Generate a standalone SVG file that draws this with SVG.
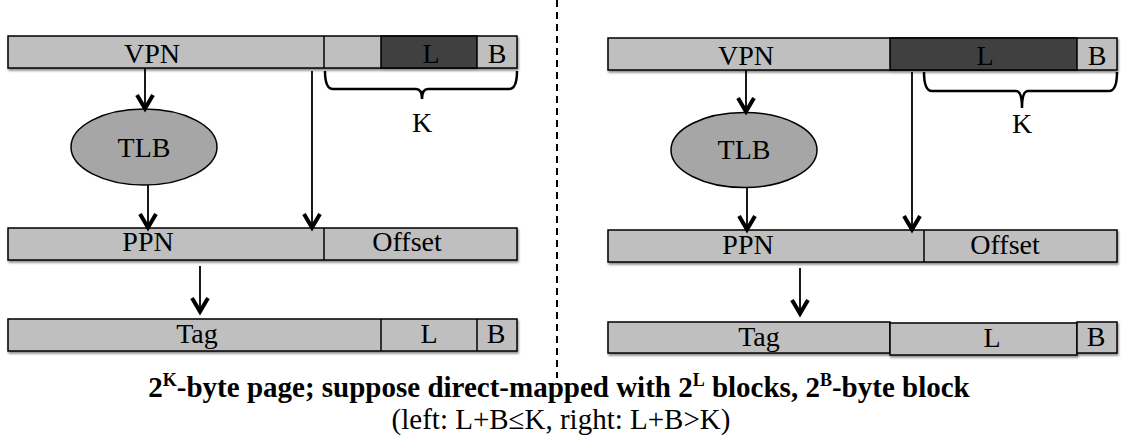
<svg xmlns="http://www.w3.org/2000/svg" width="1126" height="446" viewBox="0 0 1126 446" font-family="Liberation Serif, serif">
<defs>
<filter id="sh" x="-5%" y="-20%" width="110%" height="160%">
<feDropShadow dx="1" dy="2" stdDeviation="1.2" flood-color="#000" flood-opacity="0.45"/>
</filter>
<marker id="ah" markerWidth="24" markerHeight="24" refX="0" refY="0" orient="auto" markerUnits="userSpaceOnUse" overflow="visible">
<path d="M-14,-8 L-0.5,0 L-14,8" fill="none" stroke="#000" stroke-width="4" stroke-linejoin="miter"/>
</marker>
</defs>
<style>
.bar{fill:#bfbfbf;stroke:#000;stroke-width:1.5}
.dark{fill:#404040;stroke:#000;stroke-width:1.5}
.ell{fill:#a6a6a6;stroke:#000;stroke-width:1.5}
.t{font-size:28px;fill:#000;text-anchor:middle}
.con{stroke:#000;stroke-width:1.8;fill:none;marker-end:url(#ah)}
.brace{stroke:#000;stroke-width:2.5;fill:none}
</style>
<rect width="1126" height="446" fill="#fff"/>

<!-- LEFT -->
<g id="left-vpn" filter="url(#sh)">
<rect class="bar" x="8" y="36" width="509" height="32"/>
<rect class="dark" x="381" y="36" width="96" height="32"/>
<line x1="324" y1="36" x2="324" y2="68" stroke="#000" stroke-width="1.5"/>
</g>
<g id="left-vpn-text" font-family="Liberation Serif, serif">
<text class="t" x="152" y="63">VPN</text>
<text class="t" x="431" y="63">L</text>
<text class="t" x="497" y="63">B</text>
</g>
<g id="left-brace" font-family="Liberation Serif, serif">
<path class="brace" d="M325,71 Q325,89 333,89 L416,89 Q422,89 422,99 Q422,89 428,89 L509,89 Q517,89 517,71"/>
<text class="t" x="422" y="132">K</text>
</g>
<g id="left-tlb" font-family="Liberation Serif, serif">
<ellipse class="ell" cx="144" cy="147" rx="73" ry="38"/>
<text class="t" x="144" y="157">TLB</text>
</g>
<g id="left-ppn" filter="url(#sh)">
<rect class="bar" x="8" y="228" width="509" height="32"/>
<line x1="324" y1="228" x2="324" y2="260" stroke="#000" stroke-width="1.5"/>
</g>
<g id="left-ppn-text" font-family="Liberation Serif, serif">
<text class="t" x="148" y="251">PPN</text>
<text class="t" x="407" y="251">Offset</text>
</g>
<g id="left-tag" filter="url(#sh)">
<rect class="bar" x="8" y="319" width="509" height="32"/>
<line x1="381" y1="319" x2="381" y2="351" stroke="#000" stroke-width="1.5"/>
<line x1="477" y1="319" x2="477" y2="351" stroke="#000" stroke-width="1.5"/>
</g>
<g id="left-tag-text" font-family="Liberation Serif, serif">
<text class="t" x="197" y="343">Tag</text>
<text class="t" x="429" y="343">L</text>
<text class="t" x="496" y="343">B</text>
</g>

<!-- RIGHT -->
<g id="right-vpn" filter="url(#sh)">
<rect class="bar" x="608" y="38" width="509" height="32"/>
<rect class="dark" x="890" y="38" width="187" height="32"/>
</g>
<g id="right-vpn-text" font-family="Liberation Serif, serif">
<text class="t" x="746" y="65">VPN</text>
<text class="t" x="985" y="65">L</text>
<text class="t" x="1097" y="65">B</text>
</g>
<g id="right-brace" font-family="Liberation Serif, serif">
<path class="brace" d="M924,72 Q924,91 932,91 L1016,91 Q1022,91 1022,108 Q1022,91 1028,91 L1109,91 Q1117,91 1117,72"/>
<text class="t" x="1022" y="133">K</text>
</g>
<g id="right-tlb" font-family="Liberation Serif, serif">
<ellipse class="ell" cx="744" cy="150" rx="73" ry="37.5"/>
<text class="t" x="744" y="159">TLB</text>
</g>
<g id="right-ppn" filter="url(#sh)">
<rect class="bar" x="608" y="230" width="509" height="32"/>
<line x1="924" y1="230" x2="924" y2="262" stroke="#000" stroke-width="1.5"/>
</g>
<g id="right-ppn-text" font-family="Liberation Serif, serif">
<text class="t" x="748" y="254">PPN</text>
<text class="t" x="1005" y="254">Offset</text>
</g>
<g id="right-tag" filter="url(#sh)">
<rect class="bar" x="608" y="322" width="282" height="31"/>
<rect class="bar" x="890" y="323" width="187" height="32"/>
<rect class="bar" x="1077" y="322" width="40" height="31"/>
</g>
<g id="right-tag-text" font-family="Liberation Serif, serif">
<text class="t" x="759" y="346">Tag</text>
<text class="t" x="992" y="347">L</text>
<text class="t" x="1096" y="346">B</text>
</g>

<!-- connectors -->
<g id="connectors">
<line class="con" x1="145" y1="68" x2="145" y2="109"/>
<line class="con" x1="148" y1="185" x2="148" y2="228"/>
<line class="con" x1="312" y1="71" x2="312" y2="228"/>
<line class="con" x1="200" y1="266" x2="200" y2="312"/>
<line class="con" x1="746" y1="70" x2="746" y2="112"/>
<line class="con" x1="747" y1="187" x2="747" y2="230"/>
<line class="con" x1="912" y1="72" x2="912" y2="230"/>
<line class="con" x1="800" y1="268" x2="800" y2="314"/>
</g>

<g id="divider">
<line x1="557" y1="0" x2="557" y2="378" stroke="#000" stroke-width="2" stroke-dasharray="7,5"/>
</g>

<g id="caption">
<text x="559" y="397" style="font-family:'Liberation Serif','Times New Roman',serif;font-size:29px;font-weight:bold;text-anchor:middle">2<tspan font-size="18" dy="-11">K</tspan><tspan dy="11">-byte page; suppose direct-mapped with 2</tspan><tspan font-size="18" dy="-11">L</tspan><tspan dy="11"> blocks, 2</tspan><tspan font-size="18" dy="-11">B</tspan><tspan dy="11">-byte block</tspan></text>
<text x="561" y="429" style="font-family:'Liberation Serif','Times New Roman',serif;font-size:29px;text-anchor:middle">(left: L+B≤K, right: L+B&gt;K)</text>
</g>
</svg>
